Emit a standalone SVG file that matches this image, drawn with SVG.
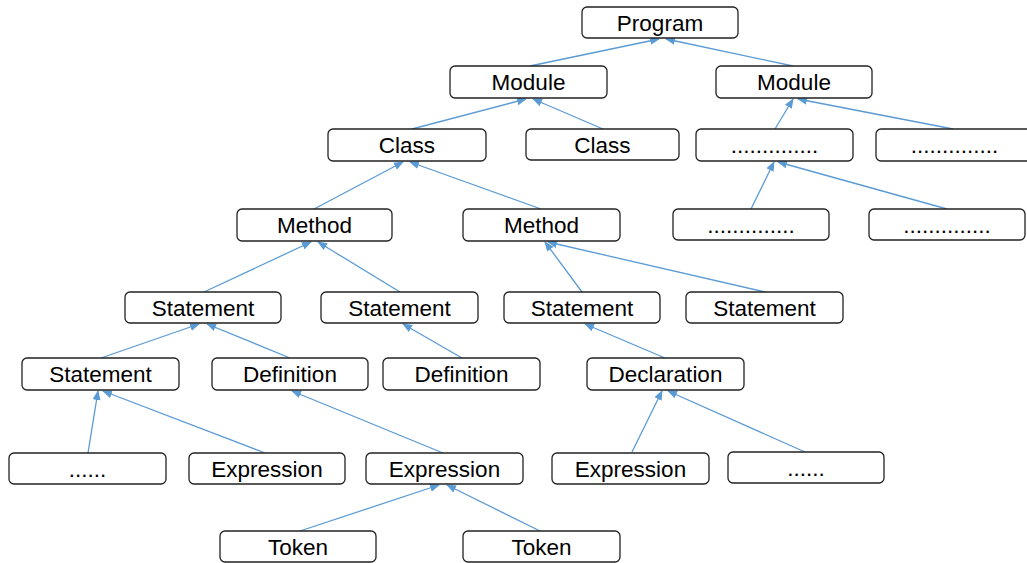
<svg xmlns="http://www.w3.org/2000/svg" width="1027" height="563" viewBox="0 0 1027 563">
  <style>
    .box { fill: #ffffff; stroke: #222222; stroke-width: 1.3; }
    .lbl { font-family: "Liberation Sans", Arial, sans-serif; font-size: 22.5px; fill: #000000; text-anchor: middle; }
    .edge { stroke: #5b9bd5; stroke-width: 1.3; fill: none; marker-end: url(#arrow); }
  </style>
  <defs>
    <marker id="arrow" markerUnits="userSpaceOnUse" markerWidth="10" markerHeight="10" viewBox="0 0 10 10" refX="9" refY="5" orient="auto">
      <path d="M0,1 L10,5 L0,9 z" fill="#5b9bd5"/>
    </marker>
  </defs>
  <rect width="1027" height="563" fill="#ffffff"/>

  <!-- parse-tree edges: child top to parent bottom -->
  <g id="connectors">
    <line class="edge" x1="530" y1="66" x2="659" y2="39"/>
    <line class="edge" x1="793" y1="66" x2="666" y2="39"/>
    <line class="edge" x1="412" y1="129" x2="526" y2="99"/>
    <line class="edge" x1="603" y1="129" x2="533" y2="99"/>
    <line class="edge" x1="775" y1="129" x2="793" y2="99"/>
    <line class="edge" x1="953" y1="129" x2="798" y2="99"/>
    <line class="edge" x1="314" y1="209" x2="403" y2="162"/>
    <line class="edge" x1="541" y1="209" x2="410" y2="162"/>
    <line class="edge" x1="204" y1="292" x2="311" y2="242"/>
    <line class="edge" x1="400" y1="292" x2="318" y2="242"/>
    <line class="edge" x1="582" y1="292" x2="545" y2="242"/>
    <line class="edge" x1="765" y1="292" x2="548" y2="242"/>
    <line class="edge" x1="751" y1="209" x2="774" y2="162"/>
    <line class="edge" x1="947" y1="209" x2="778" y2="162"/>
    <line class="edge" x1="101" y1="358" x2="199" y2="324"/>
    <line class="edge" x1="290" y1="358" x2="207" y2="324"/>
    <line class="edge" x1="462" y1="358" x2="403" y2="324"/>
    <line class="edge" x1="665" y1="358" x2="585" y2="324"/>
    <line class="edge" x1="88" y1="453" x2="98" y2="391"/>
    <line class="edge" x1="265" y1="453" x2="103" y2="391"/>
    <line class="edge" x1="443" y1="453" x2="292" y2="391"/>
    <line class="edge" x1="632" y1="452" x2="662" y2="391"/>
    <line class="edge" x1="805" y1="452" x2="668" y2="391"/>
    <line class="edge" x1="300" y1="531" x2="439" y2="485"/>
    <line class="edge" x1="540" y1="531" x2="447" y2="485"/>
  </g>

  <!-- row 1 -->
  <g id="program"><rect class="box" x="582" y="7" width="156" height="31" rx="5"/><text class="lbl" x="660" y="30.5">Program</text></g>
  <!-- row 2 -->
  <g id="module-1"><rect class="box" x="450" y="66" width="157" height="32" rx="5"/><text class="lbl" x="528.5" y="90">Module</text></g>
  <g id="module-2"><rect class="box" x="716" y="66" width="156" height="32" rx="5"/><text class="lbl" x="794" y="90">Module</text></g>
  <!-- row 3 -->
  <g id="class-1"><rect class="box" x="328" y="129" width="158" height="32" rx="5"/><text class="lbl" x="407" y="153">Class</text></g>
  <g id="class-2"><rect class="box" x="526" y="129" width="153" height="31" rx="5"/><text class="lbl" x="602.5" y="152.5">Class</text></g>
  <g id="more-1"><rect class="box" x="696" y="129" width="157" height="32" rx="5"/><text class="lbl" x="774.5" y="153">..............</text></g>
  <g id="more-2"><rect class="box" x="876" y="129" width="157" height="32" rx="5"/><text class="lbl" x="954.5" y="153">..............</text></g>
  <!-- row 4 -->
  <g id="method-1"><rect class="box" x="237" y="209" width="155" height="32" rx="5"/><text class="lbl" x="314.5" y="233">Method</text></g>
  <g id="method-2"><rect class="box" x="463" y="209" width="157" height="32" rx="5"/><text class="lbl" x="541.5" y="233">Method</text></g>
  <g id="more-3"><rect class="box" x="673" y="209" width="156" height="31" rx="5"/><text class="lbl" x="751" y="232.5">..............</text></g>
  <g id="more-4"><rect class="box" x="869" y="209" width="156" height="31" rx="5"/><text class="lbl" x="947" y="232.5">..............</text></g>
  <!-- row 5 -->
  <g id="statement-1"><rect class="box" x="125" y="292" width="156" height="31" rx="5"/><text class="lbl" x="203" y="315.5">Statement</text></g>
  <g id="statement-2"><rect class="box" x="321" y="292" width="157" height="31" rx="5"/><text class="lbl" x="399.5" y="315.5">Statement</text></g>
  <g id="statement-3"><rect class="box" x="504" y="292" width="156" height="31" rx="5"/><text class="lbl" x="582" y="315.5">Statement</text></g>
  <g id="statement-4"><rect class="box" x="686" y="292" width="157" height="31" rx="5"/><text class="lbl" x="764.5" y="315.5">Statement</text></g>
  <!-- row 6 -->
  <g id="statement-5"><rect class="box" x="22" y="358" width="157" height="32" rx="5"/><text class="lbl" x="100.5" y="382">Statement</text></g>
  <g id="definition-1"><rect class="box" x="212" y="358" width="156" height="32" rx="5"/><text class="lbl" x="290" y="382">Definition</text></g>
  <g id="definition-2"><rect class="box" x="383" y="358" width="157" height="32" rx="5"/><text class="lbl" x="461.5" y="382">Definition</text></g>
  <g id="declaration"><rect class="box" x="587" y="358" width="157" height="32" rx="5"/><text class="lbl" x="665.5" y="382">Declaration</text></g>
  <!-- row 7 -->
  <g id="more-5"><rect class="box" x="9" y="453" width="157" height="31" rx="5"/><text class="lbl" x="87.5" y="476.5">......</text></g>
  <g id="expression-1"><rect class="box" x="189" y="453" width="156" height="31" rx="5"/><text class="lbl" x="267" y="476.5">Expression</text></g>
  <g id="expression-2"><rect class="box" x="366" y="453" width="157" height="31" rx="5"/><text class="lbl" x="444.5" y="476.5">Expression</text></g>
  <g id="expression-3"><rect class="box" x="552" y="453" width="157" height="31" rx="5"/><text class="lbl" x="630.5" y="476.5">Expression</text></g>
  <g id="more-6"><rect class="box" x="728" y="452" width="156" height="31" rx="5"/><text class="lbl" x="806" y="475.5">......</text></g>
  <!-- row 8 -->
  <g id="token-1"><rect class="box" x="220" y="531" width="156" height="31" rx="5"/><text class="lbl" x="298" y="554.5">Token</text></g>
  <g id="token-2"><rect class="box" x="463" y="531" width="157" height="31" rx="5"/><text class="lbl" x="541.5" y="554.5">Token</text></g>
</svg>
